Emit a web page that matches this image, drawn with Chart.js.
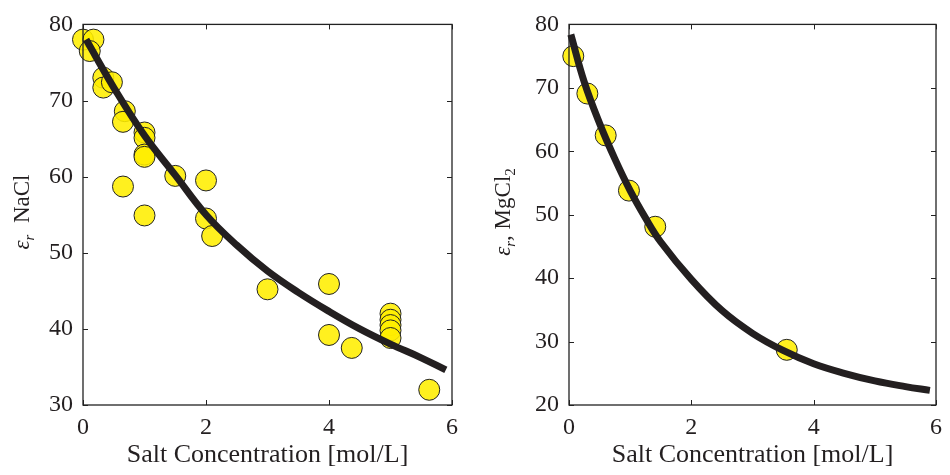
<!DOCTYPE html>
<html>
<head>
<meta charset="utf-8">
<script src="https://cdn.jsdelivr.net/npm/chart.js@4"></script>
<style>
  body { margin: 0; background: #fff; }
  #wrap { position: relative; width: 950px; height: 475px; }
  .pane { position: absolute; top: 0; width: 475px; height: 475px; }
</style>
</head>
<body>
<div id="wrap">
  <div class="pane" style="left:0"><canvas id="naclChart"></canvas></div>
  <div class="pane" style="left:475px"><canvas id="mgChart"></canvas></div>
</div>
<script>
// NaCl measurements
const naclConc = [0.0, 0.17, 0.11, 0.33, 0.33, 0.47, 0.68, 0.65, 1.0, 1.0, 1.0, 1.0, 0.65, 1.5, 2.0, 1.0, 2.0, 2.1, 3.0, 4.0, 4.0, 4.37, 5.0, 5.0, 5.0, 5.0, 5.0, 5.63];
const naclEps  = [78.0, 78.0, 76.5, 73.0, 71.7, 72.4, 68.6, 67.2, 65.8, 65.1, 62.9, 62.6, 58.7, 60.1, 59.5, 54.9, 54.5, 52.2, 45.2, 45.9, 39.2, 37.5, 42.0, 41.2, 40.5, 39.8, 38.8, 32.0];
// NaCl fitted curve
const naclFitConc = [0.05, 0.5, 1, 1.5, 2, 2.5, 3, 3.5, 4, 4.5, 5, 5.5, 5.9];
const naclFitEps  = [78.0, 71.7, 65.4, 60.2, 55.0, 51.0, 47.6, 44.8, 42.3, 40.0, 38.0, 36.2, 34.6];

// MgCl2 measurements
const mgConc = [0.07, 0.3, 0.6, 0.98, 1.41, 3.56];
const mgEps  = [75.0, 69.1, 62.5, 53.8, 48.1, 28.7];
// MgCl2 fitted curve
const mgFitConc = [0.03, 0.25, 0.5, 0.75, 1, 1.25, 1.5, 2, 2.5, 3, 3.5, 4, 4.5, 5, 5.5, 5.9];
const mgFitEps  = [78.4, 70.9, 64.4, 58.8, 53.8, 49.5, 45.7, 39.8, 34.9, 31.3, 28.6, 26.5, 25.0, 23.8, 22.9, 22.3];

const xTicks = [0, 2, 4, 6];
const naclYTicks = [30, 40, 50, 60, 70, 80];
const mgYTicks = [20, 30, 40, 50, 60, 70, 80];

const FONT = "'Liberation Serif', serif";
const INK = "#231f20";

function pts(xs, ys) {
  return xs.map((x, i) => ({ x: x, y: ys[i] }));
}

// box + inward ticks on all four sides
const framePlugin = {
  id: "frame",
  afterDraw(chart) {
    const { ctx, chartArea: a, scales } = chart;
    ctx.save();
    ctx.strokeStyle = "#222";
    ctx.lineWidth = 1.3;
    ctx.strokeRect(a.left, a.top, a.right - a.left, a.bottom - a.top);
    ctx.lineWidth = 1;
    const len = 5;
    scales.x.ticks.forEach(t => {
      const px = Math.round(scales.x.getPixelForValue(t.value)) + 0.5;
      ctx.beginPath();
      ctx.moveTo(px, a.bottom); ctx.lineTo(px, a.bottom - len);
      ctx.moveTo(px, a.top); ctx.lineTo(px, a.top + len);
      ctx.stroke();
    });
    scales.y.ticks.forEach(t => {
      const py = Math.round(scales.y.getPixelForValue(t.value)) + 0.5;
      ctx.beginPath();
      ctx.moveTo(a.left, py); ctx.lineTo(a.left + len, py);
      ctx.moveTo(a.right, py); ctx.lineTo(a.right - len, py);
      ctx.stroke();
    });
    ctx.restore();
  }
};

// rotated y label with subscripts
const yLabelPlugin = {
  id: "ylabel",
  afterDraw(chart, args, opts) {
    const ctx = chart.ctx;
    const segs = opts.segs;
    ctx.save();
    let total = 0;
    segs.forEach(s => {
      ctx.font = s.font;
      s.w = ctx.measureText(s.text).width;
      total += s.w;
    });
    ctx.translate(opts.x, opts.y);
    ctx.rotate(-Math.PI / 2);
    ctx.fillStyle = INK;
    ctx.textBaseline = "alphabetic";
    let cx = -total / 2;
    segs.forEach(s => {
      ctx.font = s.font;
      ctx.fillText(s.text, cx, 7 + (s.dy || 0));
      cx += s.w;
    });
    ctx.restore();
  }
};

function makeChart(id, scatterPts, fitPts, yMin, yMax, yTicks, yAxisW, padRight, ySegs, labelX) {
  return new Chart(document.getElementById(id), {
    type: "scatter",
    data: {
      datasets: [
        {
          // fitted curve, drawn on top of the markers
          data: fitPts,
          order: 0,
          showLine: true,
          borderColor: INK,
          borderWidth: 7,
          pointRadius: 0,
          tension: 0.4,
          fill: false,
          clip: false
        },
        {
          data: scatterPts,
          order: 1,
          backgroundColor: "rgba(255,238,0,0.88)",
          borderColor: "#222",
          borderWidth: 1,
          pointRadius: 10.5,
          clip: false
        }
      ]
    },
    options: {
      responsive: false,
      animation: false,
      devicePixelRatio: 1,
      layout: { padding: { left: 0, right: padRight, top: 18, bottom: 0 } },
      plugins: {
        legend: { display: false },
        tooltip: { enabled: false },
        ylabel: { segs: ySegs, x: labelX, y: 212 }
      },
      scales: {
        x: {
          type: "linear",
          min: 0, max: 6,
          afterBuildTicks: s => { s.ticks = xTicks.map(v => ({ value: v })); },
          afterFit: s => { s.height = 70; },
          grid: { display: false, drawTicks: false },
          border: { display: false },
          ticks: { color: INK, font: { family: FONT, size: 24 }, padding: 8 },
          title: {
            display: true,
            text: "Salt Concentration [mol/L]",
            color: INK,
            font: { family: FONT, size: 26 },
            padding: { top: 12 }
          }
        },
        y: {
          type: "linear",
          min: yMin, max: yMax,
          afterBuildTicks: s => { s.ticks = yTicks.map(v => ({ value: v })); },
          afterFit: s => { s.width = yAxisW; },
          grid: { display: false, drawTicks: false },
          border: { display: false },
          ticks: { color: INK, font: { family: FONT, size: 24 }, padding: 10 }
        }
      }
    },
    plugins: [framePlugin, yLabelPlugin]
  });
}

const italic = "italic 23px " + FONT;
const italicSub = "italic 15px " + FONT;
const roman = "23px " + FONT;
const romanSub = "15px " + FONT;

["naclChart", "mgChart"].forEach(id => {
  document.getElementById(id).width = 475;
  document.getElementById(id).height = 475;
});

makeChart("naclChart", pts(naclConc, naclEps), pts(naclFitConc, naclFitEps),
  30, 80, naclYTicks, 83, 23,
  [{ text: "ε", font: italic }, { text: "r", font: italicSub, dy: 5 }, { text: "  NaCl", font: roman }], 22);

makeChart("mgChart", pts(mgConc, mgEps), pts(mgFitConc, mgFitEps),
  20, 80, mgYTicks, 94, 12,
  [{ text: "ε", font: italic }, { text: "r", font: italicSub, dy: 5 }, { text: ", MgCl", font: roman }, { text: "2", font: romanSub, dy: 5 }], 28);
</script>
</body>
</html>
